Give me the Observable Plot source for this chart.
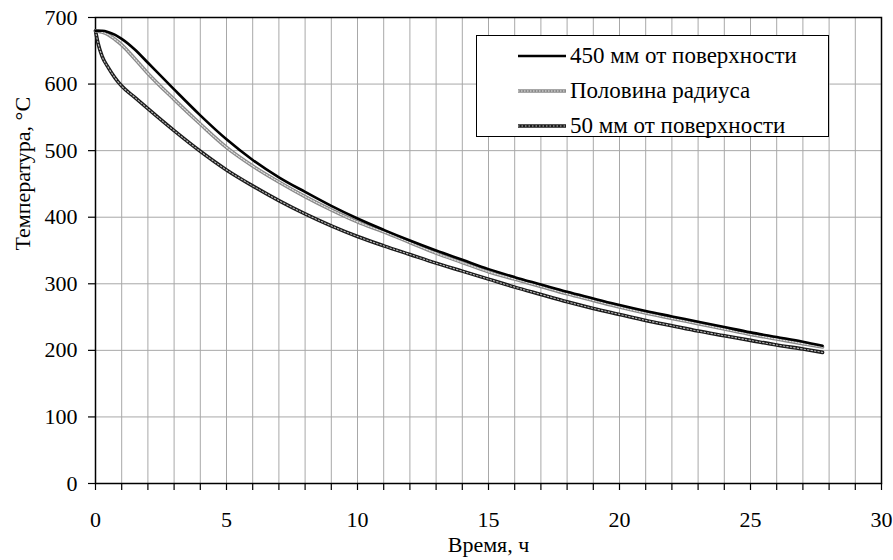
<!DOCTYPE html>
<html>
<head>
<meta charset="utf-8">
<script src="https://cdn.jsdelivr.net/npm/d3@7"></script>
<script src="https://cdn.jsdelivr.net/npm/@observablehq/plot@0.6"></script>
<style>
  body { margin: 0; background: white; }
  #wrap { position: relative; width: 893px; height: 560px; font-family: "Liberation Serif", "Times New Roman", Times, "DejaVu Serif", serif; }
  #legend { position: absolute; left: 476px; top: 35px; width: 353px; height: 102px; box-sizing: border-box;
            border: 1.5px solid black; background: white; }
  .row { position: absolute; left: 0; height: 24px; width: 100%; }
  .row svg { position: absolute; left: 41px; top: 0; }
  .row span { position: absolute; left: 93px; top: 0; line-height: 24px; font-size: 23px; white-space: nowrap; color: black;
              font-family: "Liberation Serif", "Times New Roman", Times, "DejaVu Serif", serif; }
</style>
</head>
<body>
<div id="wrap"></div>
<script>
const time   = [0, 0.1, 0.25, 0.5, 0.75, 1, 1.5, 2, 3, 4, 5, 6, 7, 8, 9, 10, 11, 12, 13, 14, 15, 16, 17, 18, 19, 20, 21, 22, 23, 24, 25, 26, 27, 27.75];
const core   = [680, 680, 680, 678, 674, 668, 652, 632, 592, 553, 517, 486, 460, 438, 417, 398, 381, 365, 350, 336, 322, 310, 299, 288, 278, 268, 259, 251, 243, 235, 227, 220, 213, 207];
const half   = [680, 679.5, 678, 674, 667, 659, 638, 616, 577, 540, 505, 477, 453, 431, 411, 393, 378, 362, 346, 332, 318, 307, 296, 285, 275, 265, 256, 248, 240, 232, 224, 217, 210, 205];
const surf   = [680, 661, 642, 624, 609, 597, 580, 563, 530, 499, 471, 447, 425, 405, 387, 371, 357, 344, 331, 319, 307, 295, 284, 273, 263, 254, 245, 237, 229, 222, 215, 208, 202, 197];
const seriesNames = ["450 мм от поверхности", "Половина радиуса", "50 мм от поверхности"];
const xTicks = d3.range(0, 31, 1);
const yTicks = d3.range(0, 701, 100);

const mk = arr => time.map((t, i) => ({t, v: arr[i]}));
const dCore = mk(core), dHalf = mk(half), dSurf = mk(surf);
const serif = "'Liberation Serif', 'Times New Roman', Times, 'DejaVu Serif', serif";

const chart = Plot.plot({
  width: 893, height: 560,
  marginLeft: 95, marginRight: 12, marginTop: 17, marginBottom: 77,
  style: {fontFamily: serif, fontSize: "22px", color: "black", background: "white"},
  x: {domain: [0, 30]},
  y: {domain: [0, 700]},
  marks: [
    Plot.gridX(xTicks.filter(d => d > 0 && d < 30), {stroke: "#a8a8a8", strokeOpacity: 1, strokeWidth: 1}),
    Plot.gridY(yTicks.filter(d => d > 0 && d < 700), {stroke: "#a8a8a8", strokeOpacity: 1, strokeWidth: 1}),
    Plot.axisX(xTicks, {tickSize: 7, tickPadding: 21, tickFormat: d => d % 5 === 0 ? String(d) : "", label: null, strokeWidth: 1.2}),
    Plot.axisY(yTicks, {tickSize: 7, tickPadding: 11, label: null, strokeWidth: 1.2}),
    Plot.frame({stroke: "black", strokeWidth: 1.5}),
    // 50 mm from surface
    Plot.line(dSurf, {x: "t", y: "v", stroke: "#1a1a1a", strokeWidth: 3.6, curve: "monotone-x"}),
    Plot.line(dSurf, {x: "t", y: "v", stroke: "#bbb", strokeWidth: 1.1, strokeDasharray: "1.5,2", curve: "monotone-x"}),
    // half radius
    Plot.line(dHalf, {x: "t", y: "v", stroke: "#8a8a8a", strokeWidth: 3.6, curve: "monotone-x"}),
    Plot.line(dHalf, {x: "t", y: "v", stroke: "#e6e6e6", strokeWidth: 1.1, strokeDasharray: "1.5,1.5", curve: "monotone-x"}),
    // 450 mm
    Plot.line(dCore, {x: "t", y: "v", stroke: "black", strokeWidth: 2.6, curve: "monotone-x"}),
    Plot.text(["Время, ч"], {frameAnchor: "bottom", dy: 68, text: d => d, fontSize: 22}),
    Plot.text(["Температура, °С"], {frameAnchor: "left", dx: -73, rotate: -90, text: d => d, fontSize: 22})
  ]
});

const wrap = document.getElementById("wrap");
wrap.appendChild(chart);

const styles = [
  [{stroke: "black", w: 2.6}],
  [{stroke: "#8a8a8a", w: 3.6}, {stroke: "#e6e6e6", w: 1.1, dash: "1.5,1.5"}],
  [{stroke: "#1a1a1a", w: 3.6}, {stroke: "#bbb", w: 1.1, dash: "1.5,2"}]
];
const legend = document.createElement("div");
legend.id = "legend";
seriesNames.forEach((name, i) => {
  const row = document.createElement("div");
  row.className = "row";
  row.style.top = (8 + 35 * i) + "px";
  const lines = styles[i].map(s =>
    `<line x1="0" y1="12" x2="48" y2="12" stroke="${s.stroke}" stroke-width="${s.w}" ${s.dash ? `stroke-dasharray="${s.dash}"` : ""}/>`).join("");
  row.innerHTML = `<svg width="48" height="24">${lines}</svg><span>${name}</span>`;
  legend.appendChild(row);
});
wrap.appendChild(legend);
</script>
</body>
</html>
